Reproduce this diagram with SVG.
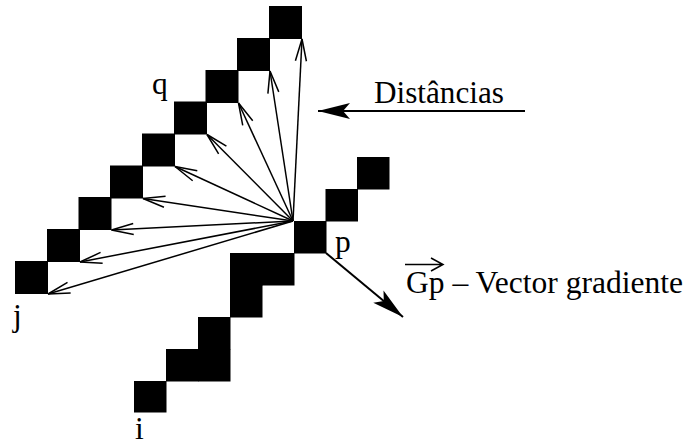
<svg xmlns="http://www.w3.org/2000/svg" width="693" height="446" viewBox="0 0 693 446">
<style>
.px{fill:#000}
.ray{stroke:#000;stroke-width:1.5;fill:none;marker-end:url(#open)}
.thick{stroke:#000;stroke-width:2;fill:none;marker-end:url(#stealth)}
.lbl{font-family:"Liberation Serif","Times New Roman",serif;font-size:31.5px;fill:#000}
</style>
<defs>
<marker id="open" markerUnits="userSpaceOnUse" viewBox="-25 -10 30 20" markerWidth="30" markerHeight="20" refX="0" refY="0" orient="auto" overflow="visible">
<path d="M-22,-5.5 L0,0 L-22,5.5" fill="none" stroke="#000" stroke-width="1.5"/>
</marker>
<marker id="stealth" markerUnits="userSpaceOnUse" viewBox="-35 -12 40 24" markerWidth="40" markerHeight="24" refX="0" refY="0" orient="auto" overflow="visible">
<path d="M0,0 L-32,-8 L-25,0 L-32,8 Z" fill="#000"/>
</marker>
</defs>
<rect width="693" height="446" fill="#fff"/>
<g id="row-j-q">
<rect class="px" x="15" y="261" width="33" height="33"/>
<rect class="px" x="47" y="229" width="33" height="33"/>
<rect class="px" x="78.5" y="197" width="33" height="33"/>
<rect class="px" x="110" y="165.5" width="33" height="33"/>
<rect class="px" x="142" y="133.5" width="33" height="33"/>
<rect class="px" x="174" y="101.5" width="33" height="33"/>
<rect class="px" x="205.5" y="70" width="33" height="33"/>
<rect class="px" x="237" y="38" width="33" height="33"/>
<rect class="px" x="269" y="6" width="33" height="33"/>
</g>
<g id="row-p">
<rect class="px" x="294" y="221" width="32.5" height="32.5"/>
<rect class="px" x="325.5" y="189" width="32.5" height="32.5"/>
<rect class="px" x="357" y="157" width="32.5" height="32.5"/>
</g>
<g id="row-i">
<rect class="px" x="262" y="253" width="32.5" height="32.5"/>
<rect class="px" x="230" y="253" width="32.5" height="32.5"/>
<rect class="px" x="230" y="285" width="32.5" height="32.5"/>
<rect class="px" x="198" y="317" width="32.5" height="32.5"/>
<rect class="px" x="198" y="349" width="32.5" height="32.5"/>
<rect class="px" x="166" y="349" width="32.5" height="32.5"/>
<rect class="px" x="134" y="381" width="32.5" height="31.5"/>
</g>
<g id="connectors">
<line class="ray" x1="293" y1="221" x2="302" y2="39"/>
<line class="ray" x1="293" y1="221" x2="270" y2="71"/>
<line class="ray" x1="293" y1="221" x2="238.5" y2="103"/>
<line class="ray" x1="293" y1="221" x2="207" y2="134.5"/>
<line class="ray" x1="293" y1="221" x2="175" y2="166.5"/>
<line class="ray" x1="293" y1="221" x2="143" y2="198.5"/>
<line class="ray" x1="293" y1="221" x2="111.5" y2="230"/>
<line class="ray" x1="293" y1="221" x2="80" y2="262"/>
<line class="ray" x1="293" y1="221" x2="48" y2="294"/>
<line class="thick" x1="525" y1="111" x2="318" y2="111"/>
<line class="thick" x1="326" y1="253" x2="403" y2="317"/>
</g>
<g id="labels">
<text class="lbl" x="152" y="94">q</text>
<text class="lbl" x="335" y="252">p</text>
<text class="lbl" x="13" y="326">j</text>
<text class="lbl" x="135" y="439">i</text>
<text class="lbl" x="374" y="103" textLength="130" lengthAdjust="spacingAndGlyphs">Distâncias</text>
<text class="lbl" x="406" y="293" textLength="277" lengthAdjust="spacingAndGlyphs">Gp – Vector gradiente</text>
<path d="M405,264.5 H443 M431,258 L443,264.5 L431,271" fill="none" stroke="#000" stroke-width="1.5"/>
</g>
</svg>
